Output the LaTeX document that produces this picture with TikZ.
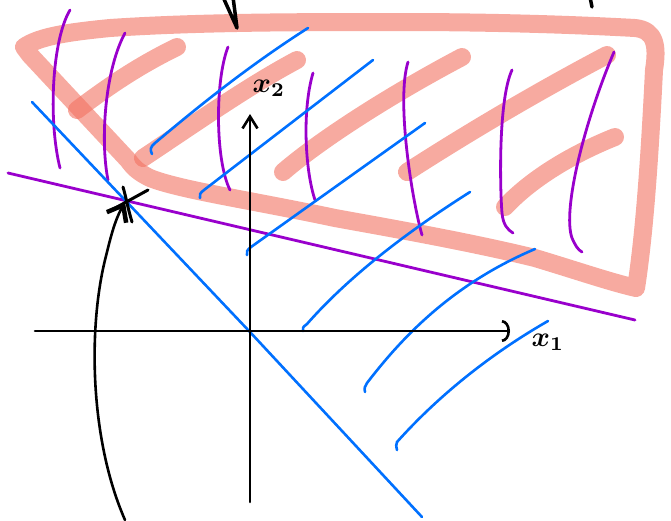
\documentclass[tikz,border=0pt]{standalone}
\usepackage{graphicx}
\usetikzlibrary{arrows.meta}
\definecolor{salmon}{RGB}{242,113,97}
\definecolor{lila}{RGB}{153,0,204}
\definecolor{azul}{RGB}{0,112,255}
\newcommand{\grande}[1]{\scalebox{2.8}{\boldmath#1}}

\begin{document}
\begin{tikzpicture}[x=1pt, y=-1pt, line cap=round, line join=round,
    marca/.style={salmon, opacity=0.6, line width=18pt},
    raya/.style={lila, line width=2.8pt},
    recta/.style={azul, line width=2.6pt},
    eje/.style={black, line width=2.6pt}]
    \useasboundingbox (0,0) rectangle (671,520);
    \clip (0,0) rectangle (671,520);
    % ejes y punto de corte
    \coordinate (O) at (250,332);
    \coordinate (X) at (510,331); \coordinate (Xi) at (35,331);
    \coordinate (Y) at (250,114); \coordinate (Yi) at (250,502);
    \coordinate (P) at (125,202);
    \coordinate (Q) at (125,520);
    % region marcada
    \draw[marca] (24,47) .. controls (40,36) and (70,32) .. (110,28)
        .. controls (200,22) and (300,22) .. (400,22)
        .. controls (500,22) and (580,25) .. (635,28)
        .. controls (655,30) and (658,45) .. (654,70)
        .. controls (650,150) and (645,230) .. (636,288)
        .. controls (610,282) and (575,270) .. (535,258)
        .. controls (470,242) and (390,228) .. (335,218)
        .. controls (250,200) and (180,190) .. (150,178)
        .. controls (138,172) and (134,168) .. (128,160) -- (30,55) -- cycle;
    \draw[marca] (77,110) .. controls (110,85) and (140,65) .. (177,47);
    \draw[marca] (143,158) .. controls (200,120) and (250,85) .. (297,60);
    \draw[marca] (283,172) .. controls (320,140) and (390,95) .. (462,57);
    \draw[marca] (407,172) .. controls (480,125) and (550,85) .. (607,55);
    \draw[marca] (505,207) .. controls (530,180) and (570,155) .. (615,137);
    % rayas verticales
    \draw[raya] (70,10) .. controls (52,40) and (48,120) .. (60,168);
    \draw[raya] (125,33) .. controls (105,70) and (100,140) .. (108,180);
    \draw[raya] (228,47) .. controls (215,80) and (215,160) .. (230,190);
    \draw[raya] (313,73) .. controls (302,110) and (305,170) .. (315,200);
    \draw[raya] (408,62) .. controls (396,100) and (412,200) .. (422,235);
    \draw[raya] (512,70) .. controls (498,100) and (500,190) .. (502,213)
        .. controls (503,225) and (508,230) .. (513,233);
    \draw[raya] (614,52) .. controls (585,120) and (562,210) .. (572,238)
        .. controls (575,245) and (578,250) .. (582,252);
    \draw[raya] (8,173) -- (635,320);
    % rectas de nivel
    \draw[recta] (32,102) -- (O) -- (422,517);
    \draw[recta] (152,154) .. controls (150,150) and (150,147) .. (155,143)
        .. controls (200,105) and (250,65) .. (308,28);
    \draw[recta] (200,198) .. controls (199,195) and (200,193) .. (204,190)
        -- (373,60);
    \draw[recta] (247,255) .. controls (246,252) and (247,250) .. (251,247)
        -- (425,123);
    \draw[recta] (303,331) .. controls (302,328) and (303,327) .. (307,324)
        .. controls (350,275) and (410,230) .. (470,192);
    \draw[recta] (365,392) .. controls (364,388) and (365,386) .. (367,383)
        .. controls (400,340) and (450,285) .. (535,249);
    \draw[recta] (397,450) .. controls (396,446) and (396,444) .. (397,442)
        .. controls (430,405) and (480,360) .. (548,321);
    % ejes
    \draw[eje, -{Arc Barb[length=8pt, width=22pt]}] (Xi) -- (X);
    \draw[eje, -{Straight Barb[length=12pt, width=15pt]}] (Yi) -- (Y);
    \node (x1) at (548,342) {\grande{$x_1$}};
    \node (x2) at (269,88) {\grande{$x_2$}};
    % optimo
    \draw[line width=3pt] (148,190) -- (108,212);
    \draw[line width=3pt] (123,187) .. controls (126,197) and (127,205) .. (132,222);
    \draw[line width=2.6pt, -{Straight Barb[length=14pt, width=22pt, line width=4.5pt]}]
        (Q) .. controls (90,440) and (88,330) .. (105,260)
        .. controls (110,240) and (114,222) .. (P);
    % flecha cortada arriba
    \draw[line width=3.5pt] (223,-3) -- (237,28) -- (233,-3);
    \draw[line width=3.5pt] (590,-3) -- (592,7);
\end{tikzpicture}
\end{document}
